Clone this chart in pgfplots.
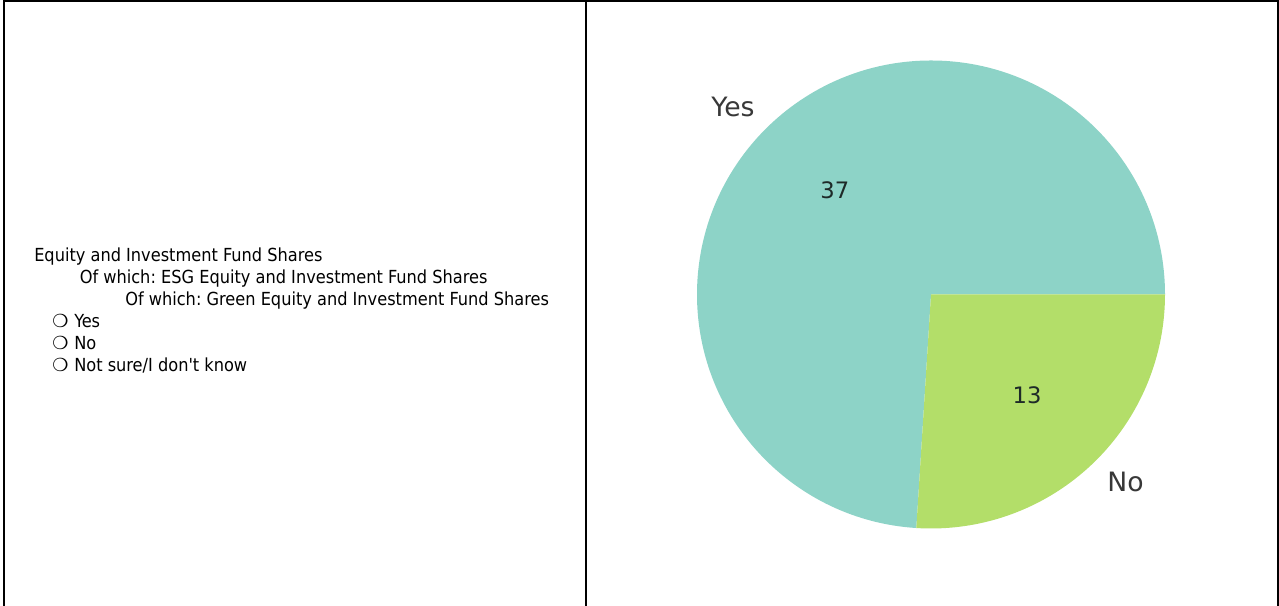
\documentclass[border=0pt]{standalone}
\usepackage{pgfplots}
\pgfplotsset{compat=1.18}
\usepackage{pgfplotstable}
\usepackage{fontspec}
\setmainfont{DejaVu Sans}
\newfontfamily\tahfont{DejaVu Sans Condensed}
\newfontfamily\djfont{DejaVu Sans}
\definecolor{yescol}{HTML}{8DD3C7}
\definecolor{nocol}{HTML}{B3DE69}
\definecolor{lblcol}{HTML}{383838}
\definecolor{numcol}{HTML}{1E2A28}

\pgfplotstableread{
label value
Yes 37
No 13
}\piedata

\begin{document}
\frenchspacing
\begin{tikzpicture}
\pgfplotstablegetelem{0}{value}\of\piedata \edef\vYes{\pgfplotsretval}
\pgfplotstablegetelem{1}{value}\of\piedata \edef\vNo{\pgfplotsretval}
\pgfmathsetmacro\aYes{360*\vYes/(\vYes+\vNo)}
\pgfmathsetmacro\mYes{\aYes/2}
\pgfmathsetmacro\mNo{(\aYes+360)/2}
\def\R{175.5pt}
\begin{axis}[
  scale only axis, width=959.25pt, height=454.5pt,
  xmin=0, xmax=1279, ymin=0, ymax=606,
  hide axis, clip=false,
]
% frame
\draw[line width=1.5pt] (axis cs:3.5,0) -- (axis cs:3.5,605.3) -- (axis cs:1277.5,605.3) -- (axis cs:1277.5,0);
\draw[line width=1.5pt] (axis cs:585.5,0) -- (axis cs:585.5,605.3);
% left text
\begin{scope}[every node/.style={anchor=base west, inner sep=0pt, font=\tahfont\fontsize{13.5pt}{16pt}\selectfont}]
\node at (axis cs:34,344) {Equity and Investment Fund Shares};
\node at (axis cs:79.5,322) {Of which: ESG Equity and Investment Fund Shares};
\node at (axis cs:125,300) {Of which: Green Equity and Investment Fund Shares};
\node at (axis cs:74,278) {Yes};
\node at (axis cs:74,256) {No};
\node at (axis cs:74,234) {Not sure/I don't know};
\end{scope}
\begin{scope}[every node/.style={anchor=base west, inner sep=0pt, font=\djfont\fontsize{13.5pt}{14pt}\selectfont}]
\node at (axis cs:52,278) {❍};
\node at (axis cs:52,256) {❍};
\node at (axis cs:52,234) {❍};
\end{scope}
% pie
\fill[yescol] (axis cs:931,311.5) -- ++(0:\R) arc[start angle=0, end angle=\aYes, radius=\R] -- cycle;
\fill[nocol] (axis cs:931,311.5) -- ++(\aYes:\R) arc[start angle=\aYes, end angle=360, radius=\R] -- cycle;
\path (axis cs:931,311.5) ++(\mYes:1.1*\R) node[anchor=east, inner sep=0pt, text=lblcol, font=\djfont\fontsize{20pt}{22pt}\selectfont] {Yes};
\path (axis cs:931,311.5) ++(\mNo:1.1*\R) node[anchor=west, inner sep=0pt, text=lblcol, font=\djfont\fontsize{20pt}{22pt}\selectfont] {No};
\path (axis cs:931,313.5) ++(\mYes:0.6*\R) node[inner sep=0pt, text=numcol, font=\djfont\fontsize{17pt}{20pt}\selectfont] {\vYes};
\path (axis cs:931,313.5) ++(\mNo:0.6*\R) node[inner sep=0pt, text=numcol, font=\djfont\fontsize{17pt}{20pt}\selectfont] {\vNo};
\end{axis}
\pgfresetboundingbox
\path (0,0) rectangle (959.25pt,454.5pt);
\end{tikzpicture}
\end{document}
